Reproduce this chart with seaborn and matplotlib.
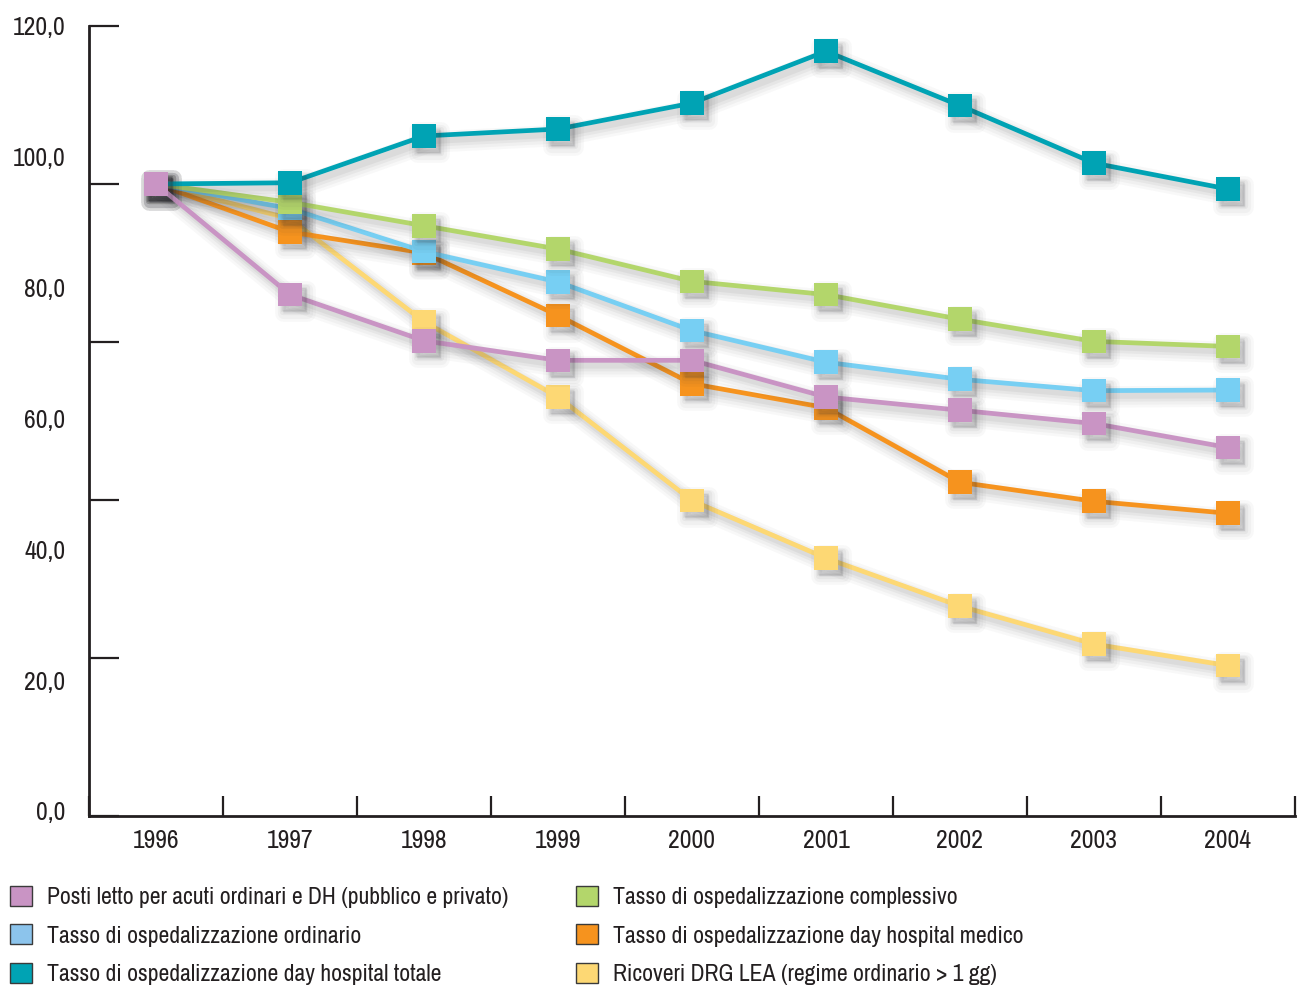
import numpy as np
import pandas as pd
import matplotlib
matplotlib.use("Agg")
import matplotlib.pyplot as plt
import seaborn as sns
from matplotlib import font_manager as fm
from matplotlib.patches import Patch
from matplotlib.patheffects import AbstractPathEffect, Normal
from matplotlib.ticker import FixedLocator, FixedFormatter, NullFormatter

# ---- data -------------------------------------------------------------
years = ["1996", "1997", "1998", "1999", "2000", "2001", "2002", "2003", "2004"]

posti_letto = [100.0, 82.5, 75.2, 72.1, 72.1, 66.3, 64.2, 62.1, 58.3]
tasso_ordinario = [100.0, 96.1, 89.3, 84.5, 76.8, 71.8, 69.1, 67.3, 67.4]
tasso_dh_totale = [100.0, 100.2, 107.6, 108.7, 112.8, 121.0, 112.4, 103.3, 99.2]
tasso_complessivo = [100.0, 97.1, 93.4, 89.7, 84.6, 82.5, 78.6, 75.1, 74.3]
tasso_dh_medico = [100.0, 92.4, 89.1, 79.2, 68.4, 64.6, 52.8, 49.8, 47.9]
ricoveri_drg = [100.0, 94.5, 78.2, 66.3, 49.9, 40.8, 33.2, 27.2, 23.8]

series_names = [
    "Posti letto per acuti ordinari e DH (pubblico e privato)",
    "Tasso di ospedalizzazione ordinario",
    "Tasso di ospedalizzazione day hospital totale",
    "Tasso di ospedalizzazione complessivo",
    "Tasso di ospedalizzazione day hospital medico",
    "Ricoveri DRG LEA (regime ordinario > 1 gg)",
]
series_values = [posti_letto, tasso_ordinario, tasso_dh_totale,
                 tasso_complessivo, tasso_dh_medico, ricoveri_drg]
series_colors = ["#C994C4", "#77CFF3", "#00A3B4", "#B3D66B", "#F6931E", "#FDD874"]
legend_colors = ["#C994C4", "#8CC4EC", "#00A3B4", "#B3D66B", "#F6931E", "#FDD874"]

# stacking order of the lines (first drawn = bottom)
draw_order = [5, 4, 1, 3, 2, 0]

y_label_text = ["0,0", "20,0", "40,0", "60,0", "80,0", "100,0", "120,0"]
y_label_pos = [0.8, 21.5, 42.2, 62.9, 83.6, 104.3, 125.0]
y_tick_marks = [0, 25, 50, 75, 100, 125]

# ---- long-form table --------------------------------------------------
rows = []
for name, vals in zip(series_names, series_values):
    for i, v in enumerate(vals):
        rows.append({"serie": name, "pos": i, "valore": v})
df = pd.DataFrame(rows)


class SoftShadow(AbstractPathEffect):
    """Offset dark copy of the path; fills markers, strokes lines."""

    def __init__(self, offset=(3, -3), alpha=0.1, grow=0.0):
        super().__init__(offset)
        self._alpha = alpha
        self._grow = grow

    def draw_path(self, renderer, gc, tpath, affine, rgbFace=None):
        gc0 = renderer.new_gc()
        gc0.copy_properties(gc)
        gc0.set_foreground((0.2, 0.2, 0.22))
        gc0.set_alpha(self._alpha)
        gc0.set_linewidth(gc.get_linewidth() + self._grow)
        gc0.set_joinstyle("round")
        face = (0.2, 0.2, 0.22) if rgbFace is not None else None
        renderer.draw_path(gc0, tpath, affine + self._offset_transform(renderer), face)
        gc0.restore()


shadow = [SoftShadow((3.5, -4.5), 0.03, 12.0), SoftShadow((3.5, -4.5), 0.04, 8.0),
          SoftShadow((3.5, -4), 0.05, 4.5), SoftShadow((3, -3.5), 0.06, 1.5),
          Normal()]

sns.set_theme(style="white")

# a condensed sans-serif if one is available, else a regular one
available = sorted({f.name for f in fm.fontManager.ttflist})
narrow = [n for n in available if ("Narrow" in n or "Condensed" in n)]
base_font = narrow[0] if narrow else ("Liberation Sans" if "Liberation Sans" in available
                                      else "DejaVu Sans")
plt.rcParams["font.family"] = [base_font, "DejaVu Sans"]
ink = "#231F20"

fig = plt.figure(figsize=(13.06, 9.85), dpi=100)
renderer = fig.canvas.get_renderer()


def size_for_width(sample, width_px, ref=20.0):
    t = fig.text(0, 0, sample, fontsize=ref)
    w = t.get_window_extent(renderer).width
    t.remove()
    return ref * width_px / w


tick_size = size_for_width("1996", 47)
legend_size = size_for_width(series_names[0], 462)

ax = fig.add_axes([89 / 1306, 1 - 816 / 985, (1295 - 89) / 1306, (816 - 26) / 985])

palette = {series_names[k]: series_colors[k] for k in range(6)}
for k in draw_order:
    name = series_names[k]
    sns.lineplot(data=df[df["serie"] == name], x="pos", y="valore",
                 color=palette[name], marker="s", markersize=17,
                 markeredgewidth=0, linewidth=3.4, legend=False, ax=ax,
                 path_effects=shadow)

ax.set_xlim(-0.5, len(years) - 0.5)
ax.set_ylim(0, 125)
ax.set_xlabel("")
ax.set_ylabel("")

for side in ("top", "right"):
    ax.spines[side].set_visible(False)
for side in ("left", "bottom"):
    ax.spines[side].set_color(ink)
    ax.spines[side].set_linewidth(2.0)

# x axis: year labels centred, short ticks between categories
ax.xaxis.set_major_locator(FixedLocator(range(len(years))))
ax.xaxis.set_major_formatter(FixedFormatter(years))
ax.xaxis.set_minor_locator(FixedLocator(np.arange(-0.5, len(years), 1.0)))
ax.xaxis.remove_overlapping_locs = False
ax.tick_params(axis="x", which="major", length=0, pad=9, labelsize=tick_size,
               labelcolor=ink)
ax.tick_params(axis="x", which="minor", direction="in", length=14.4, width=1.6,
               color=ink, bottom=True)

# y axis: tick marks every 25, labels on their own evenly spaced grid
ax.yaxis.set_major_locator(FixedLocator(y_tick_marks))
ax.yaxis.set_major_formatter(NullFormatter())
ax.yaxis.set_minor_locator(FixedLocator(y_label_pos))
ax.yaxis.set_minor_formatter(FixedFormatter(y_label_text))
ax.yaxis.remove_overlapping_locs = False
ax.tick_params(axis="y", which="major", direction="in", length=21.6, width=1.6,
               color=ink, left=True)
ax.tick_params(axis="y", which="minor", length=0, pad=17, labelsize=tick_size,
               labelcolor=ink, left=True)
ax.grid(False)


# legend: two columns below the plot
def legend_block(idx, x_px):
    handles = [Patch(facecolor=legend_colors[k], edgecolor="#3A3A3A", linewidth=1.0)
               for k in idx]
    labels = [series_names[k] for k in idx]
    fs_px = legend_size * 100 / 72
    leg = fig.legend(handles, labels, loc="upper left",
                     bbox_to_anchor=(x_px / 1306, 1 - 886 / 985),
                     frameon=False, fontsize=legend_size,
                     handlelength=22 / fs_px, handleheight=22 / fs_px,
                     handletextpad=15 / fs_px, labelspacing=0.68,
                     borderpad=0, borderaxespad=0)
    for t in leg.get_texts():
        t.set_color(ink)
    return leg


legend_block([0, 1, 2], 10)
legend_block([3, 4, 5], 576)

fig.savefig("out.png", dpi=100, facecolor="white")
